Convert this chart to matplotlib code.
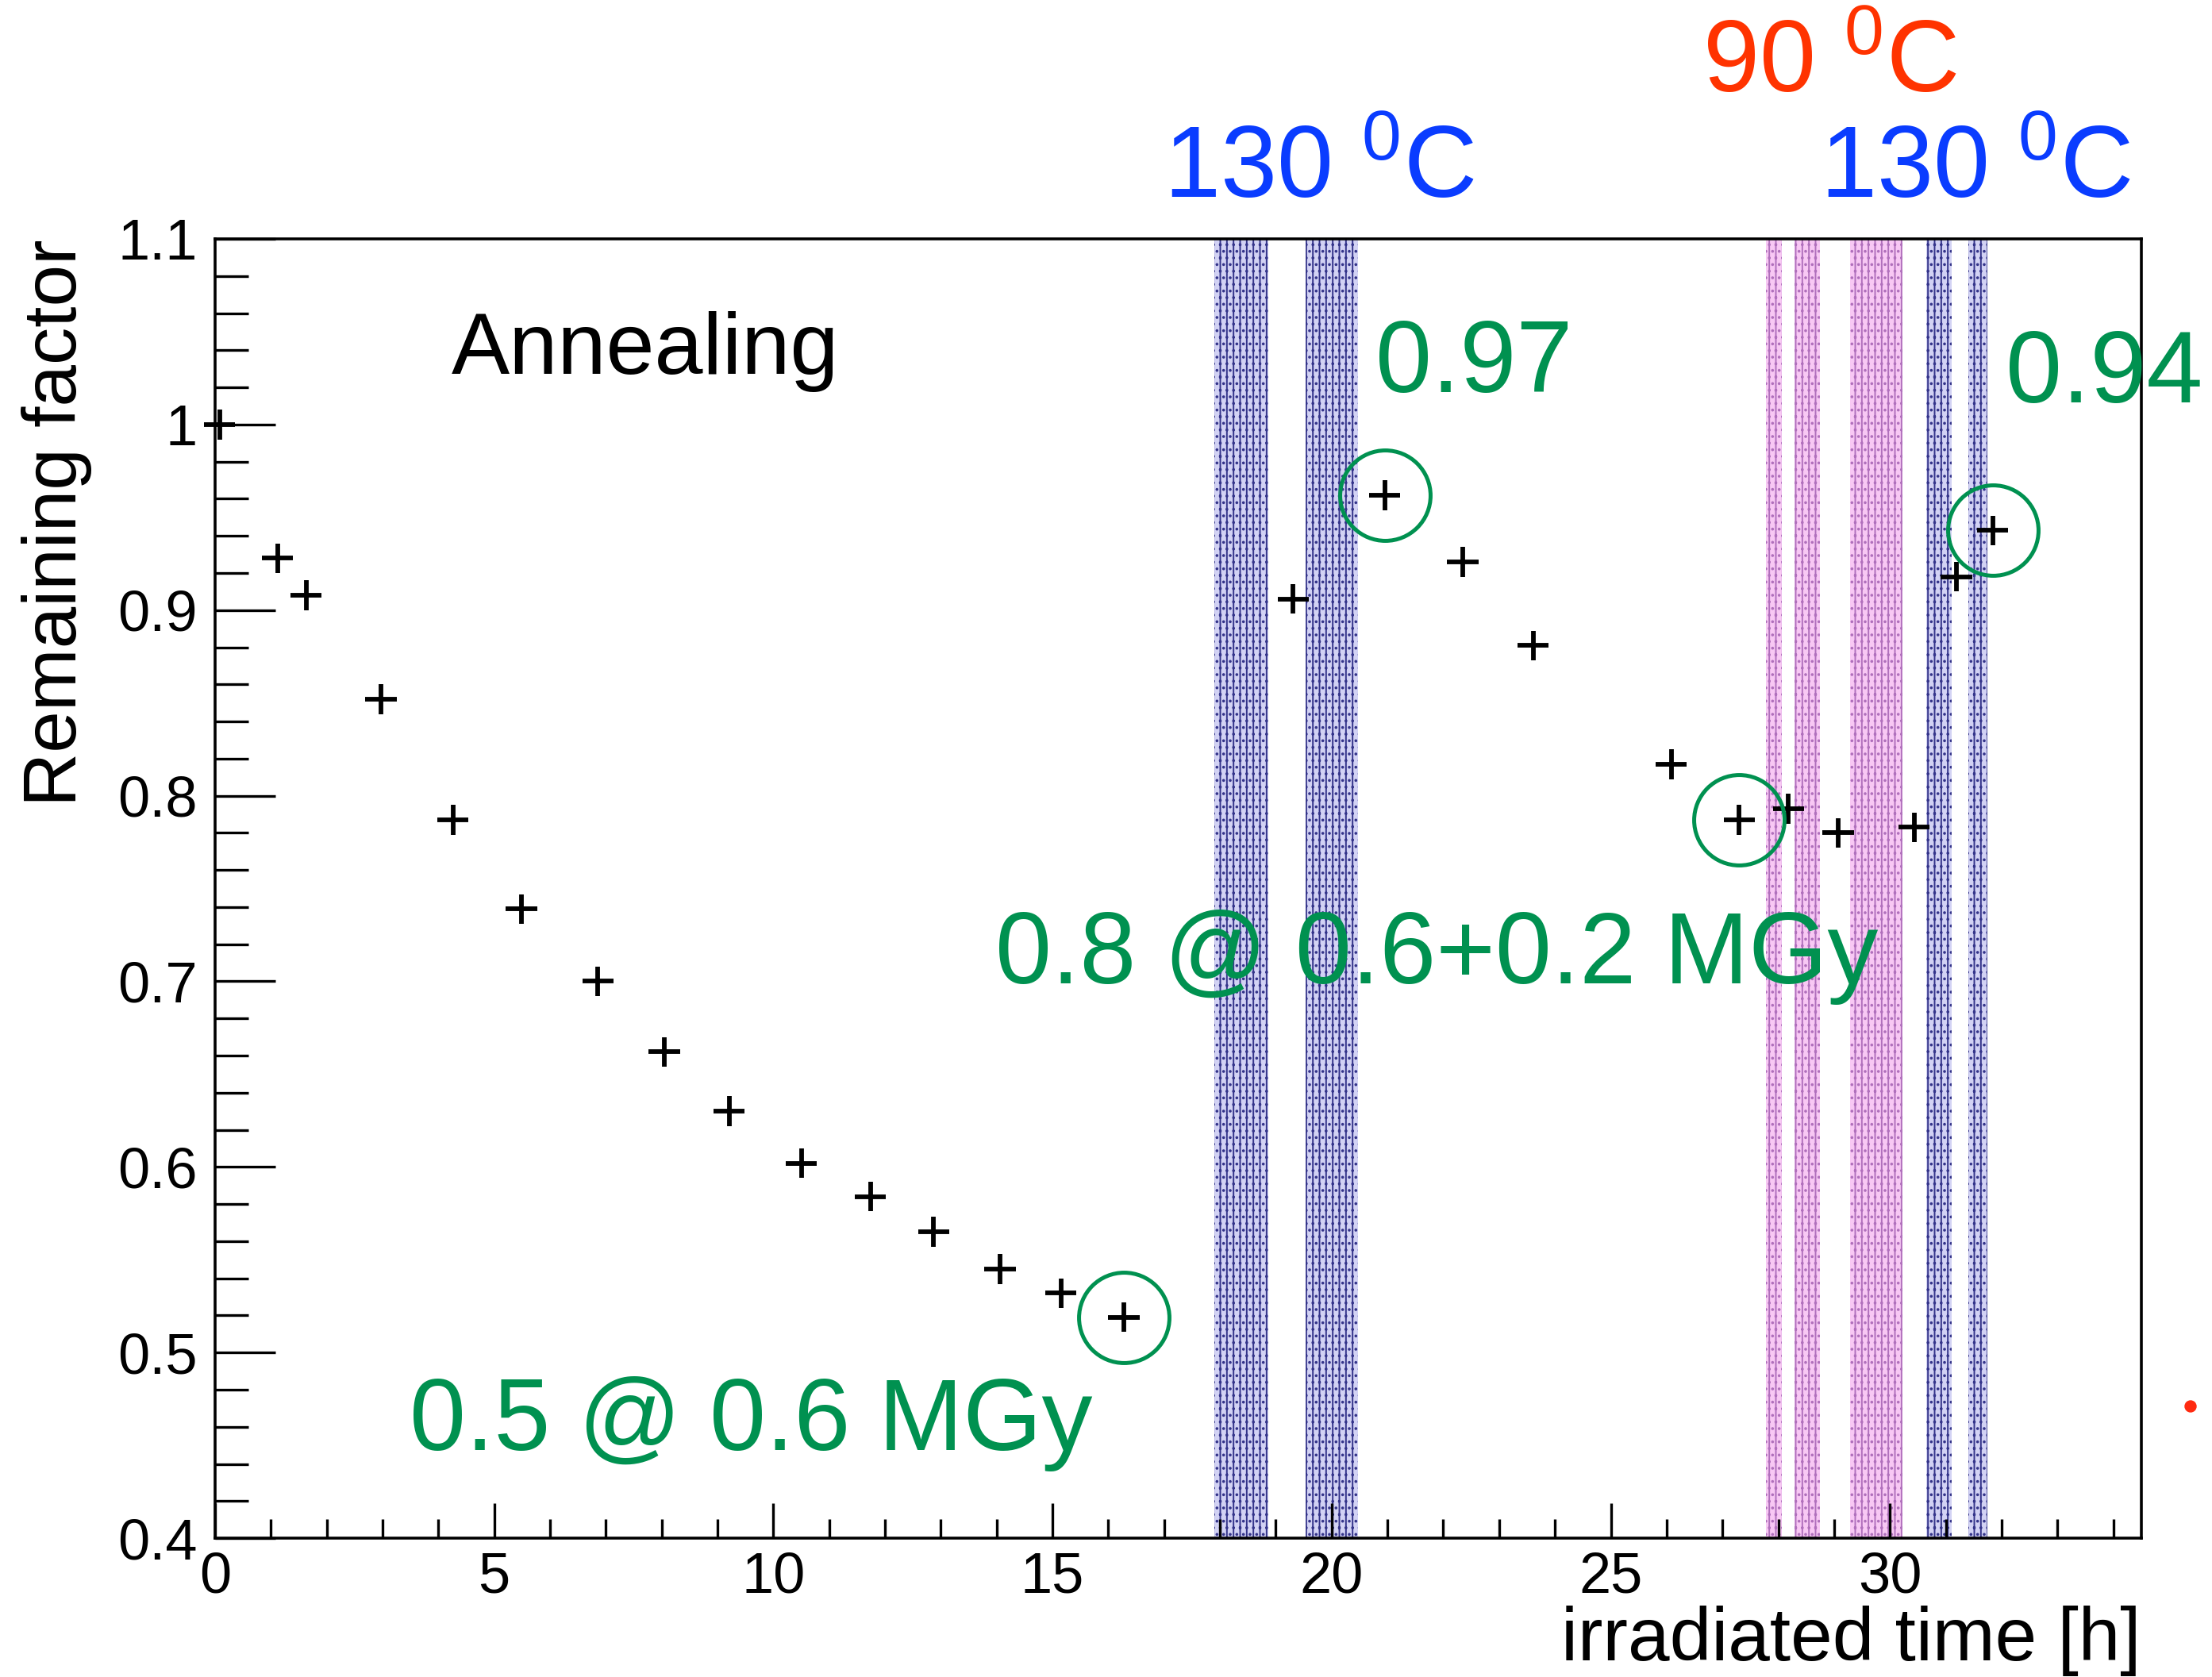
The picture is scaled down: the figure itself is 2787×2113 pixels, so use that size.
import matplotlib
matplotlib.use('Agg')

import matplotlib.pyplot as plt
from matplotlib.ticker import MultipleLocator
from matplotlib.patches import Ellipse

# irradiated time [h] and remaining factor
time_h = [0.08, 1.12, 1.63, 2.97, 4.26, 5.49, 6.86, 8.05, 9.21, 10.50, 11.74,
          12.87, 14.06, 15.15, 16.28, 19.31, 20.95, 22.35, 23.61, 26.08,
          27.30, 28.18, 29.07, 30.43, 31.19, 31.84]
remaining = [1.000, 0.928, 0.908, 0.852, 0.787, 0.739, 0.700, 0.662, 0.630,
             0.602, 0.584, 0.565, 0.545, 0.532, 0.519, 0.906, 0.962, 0.926,
             0.881, 0.817, 0.787, 0.793, 0.780, 0.783, 0.918, 0.943]
time_err = 0.28
remaining_err = 0.008

# points circled on the slide
circled = [14, 16, 20, 25]

# annealing periods (start, end) in hours
anneal_130 = [(17.90, 18.86), (19.53, 20.47), (30.65, 31.11), (31.40, 31.75)]
anneal_90 = [(27.78, 28.06), (28.29, 28.75), (29.29, 30.23)]

GREEN = '#009150'
BLUE = '#0a3cff'
RED = '#ff3300'
NARROW = ['Liberation Sans Narrow', 'Liberation Sans', 'DejaVu Sans']

plt.rcParams['font.family'] = ['Liberation Sans', 'DejaVu Sans']
plt.rcParams['hatch.linewidth'] = 1.4

fig = plt.figure(figsize=(27.87, 21.13), dpi=100)
ax = fig.add_axes([0.0972, 0.0828, 0.8708, 0.7747])

for a, b in anneal_130:
    ax.axvspan(a, b, facecolor='#d2d2f4', edgecolor='#34348a', hatch='||..',
               linewidth=0, zorder=1)
for a, b in anneal_90:
    ax.axvspan(a, b, facecolor='#f8c8f4', edgecolor='#b070bc', hatch='||..',
               linewidth=0, zorder=1)

eb = ax.errorbar(time_h, remaining, xerr=time_err, yerr=remaining_err, fmt='none',
                 ecolor='black', elinewidth=4.2, capsize=0, zorder=3)
for c in eb.lines[2]:
    c.set_clip_on(False)

ax.plot([time_h[i] for i in circled], [remaining[i] for i in circled], 'o',
        mfc='none', mec=GREEN, mew=3.6, ms=82, clip_on=False, zorder=4)

ax.set_xlim(0, 34.5)
ax.set_ylim(0.4, 1.1)
ax.xaxis.set_major_locator(MultipleLocator(5))
ax.xaxis.set_minor_locator(MultipleLocator(1))
ax.yaxis.set_major_locator(MultipleLocator(0.1))
ax.yaxis.set_minor_locator(MultipleLocator(0.02))
ax.yaxis.set_major_formatter(plt.FuncFormatter(lambda v, p: ('%g' % round(v, 2))))
ax.tick_params(axis='both', which='both', direction='in', width=2.4,
               labelsize=52, top=False, right=False)
ax.tick_params(axis='y', which='major', length=55, pad=16)
ax.tick_params(axis='y', which='minor', length=30)
ax.tick_params(axis='x', which='major', length=32, pad=12)
ax.tick_params(axis='x', which='minor', length=17)
for s in ax.spines.values():
    s.set_linewidth(2.6)

ax.set_ylabel('Remaining factor', fontsize=68, loc='top')
ax.yaxis.set_label_coords(-0.064, 1.0)
ax.set_xlabel('irradiated time [h]', fontsize=68, loc='right')
ax.xaxis.set_label_coords(1.0, -0.052)
ax.xaxis.label.set_va('top')

ax.text(4.24, 1.0273, 'Annealing', fontsize=79, color='black', va='baseline')

ax.text(20.78, 1.0175, '0.97', fontsize=92, color=GREEN, family=NARROW,
        va='baseline', clip_on=False)
ax.text(32.07, 1.012, '0.94', fontsize=92, color=GREEN, family=NARROW,
        va='baseline', clip_on=False)
ax.text(13.98, 0.699, '0.8 @ 0.6+0.2 MGy', fontsize=92, color=GREEN,
        family=NARROW, va='baseline', zorder=5)
ax.text(3.48, 0.4476, '0.5 @ 0.6 MGy', fontsize=92, color=GREEN,
        family=NARROW, va='baseline', zorder=5)

fig.text(1466 / 2787, 1 - 249 / 2113, r'130 $\mathregular{^0}$C', fontsize=92,
         color=BLUE, family=NARROW, va='baseline')
fig.text(2293 / 2787, 1 - 249 / 2113, r'130 $\mathregular{^0}$C', fontsize=92,
         color=BLUE, family=NARROW, va='baseline')
fig.text(2145 / 2787, 1 - 116 / 2113, r'90 $\mathregular{^0}$C', fontsize=92,
         color=RED, family=NARROW, va='baseline')

# stray bullet from the slide
fig.add_artist(Ellipse((2760 / 2787, 1 - 1772 / 2113), 14 / 2787, 14 / 2113,
                       transform=fig.transFigure, color='#ff2a10'))

fig.savefig('out.png', dpi=100)
